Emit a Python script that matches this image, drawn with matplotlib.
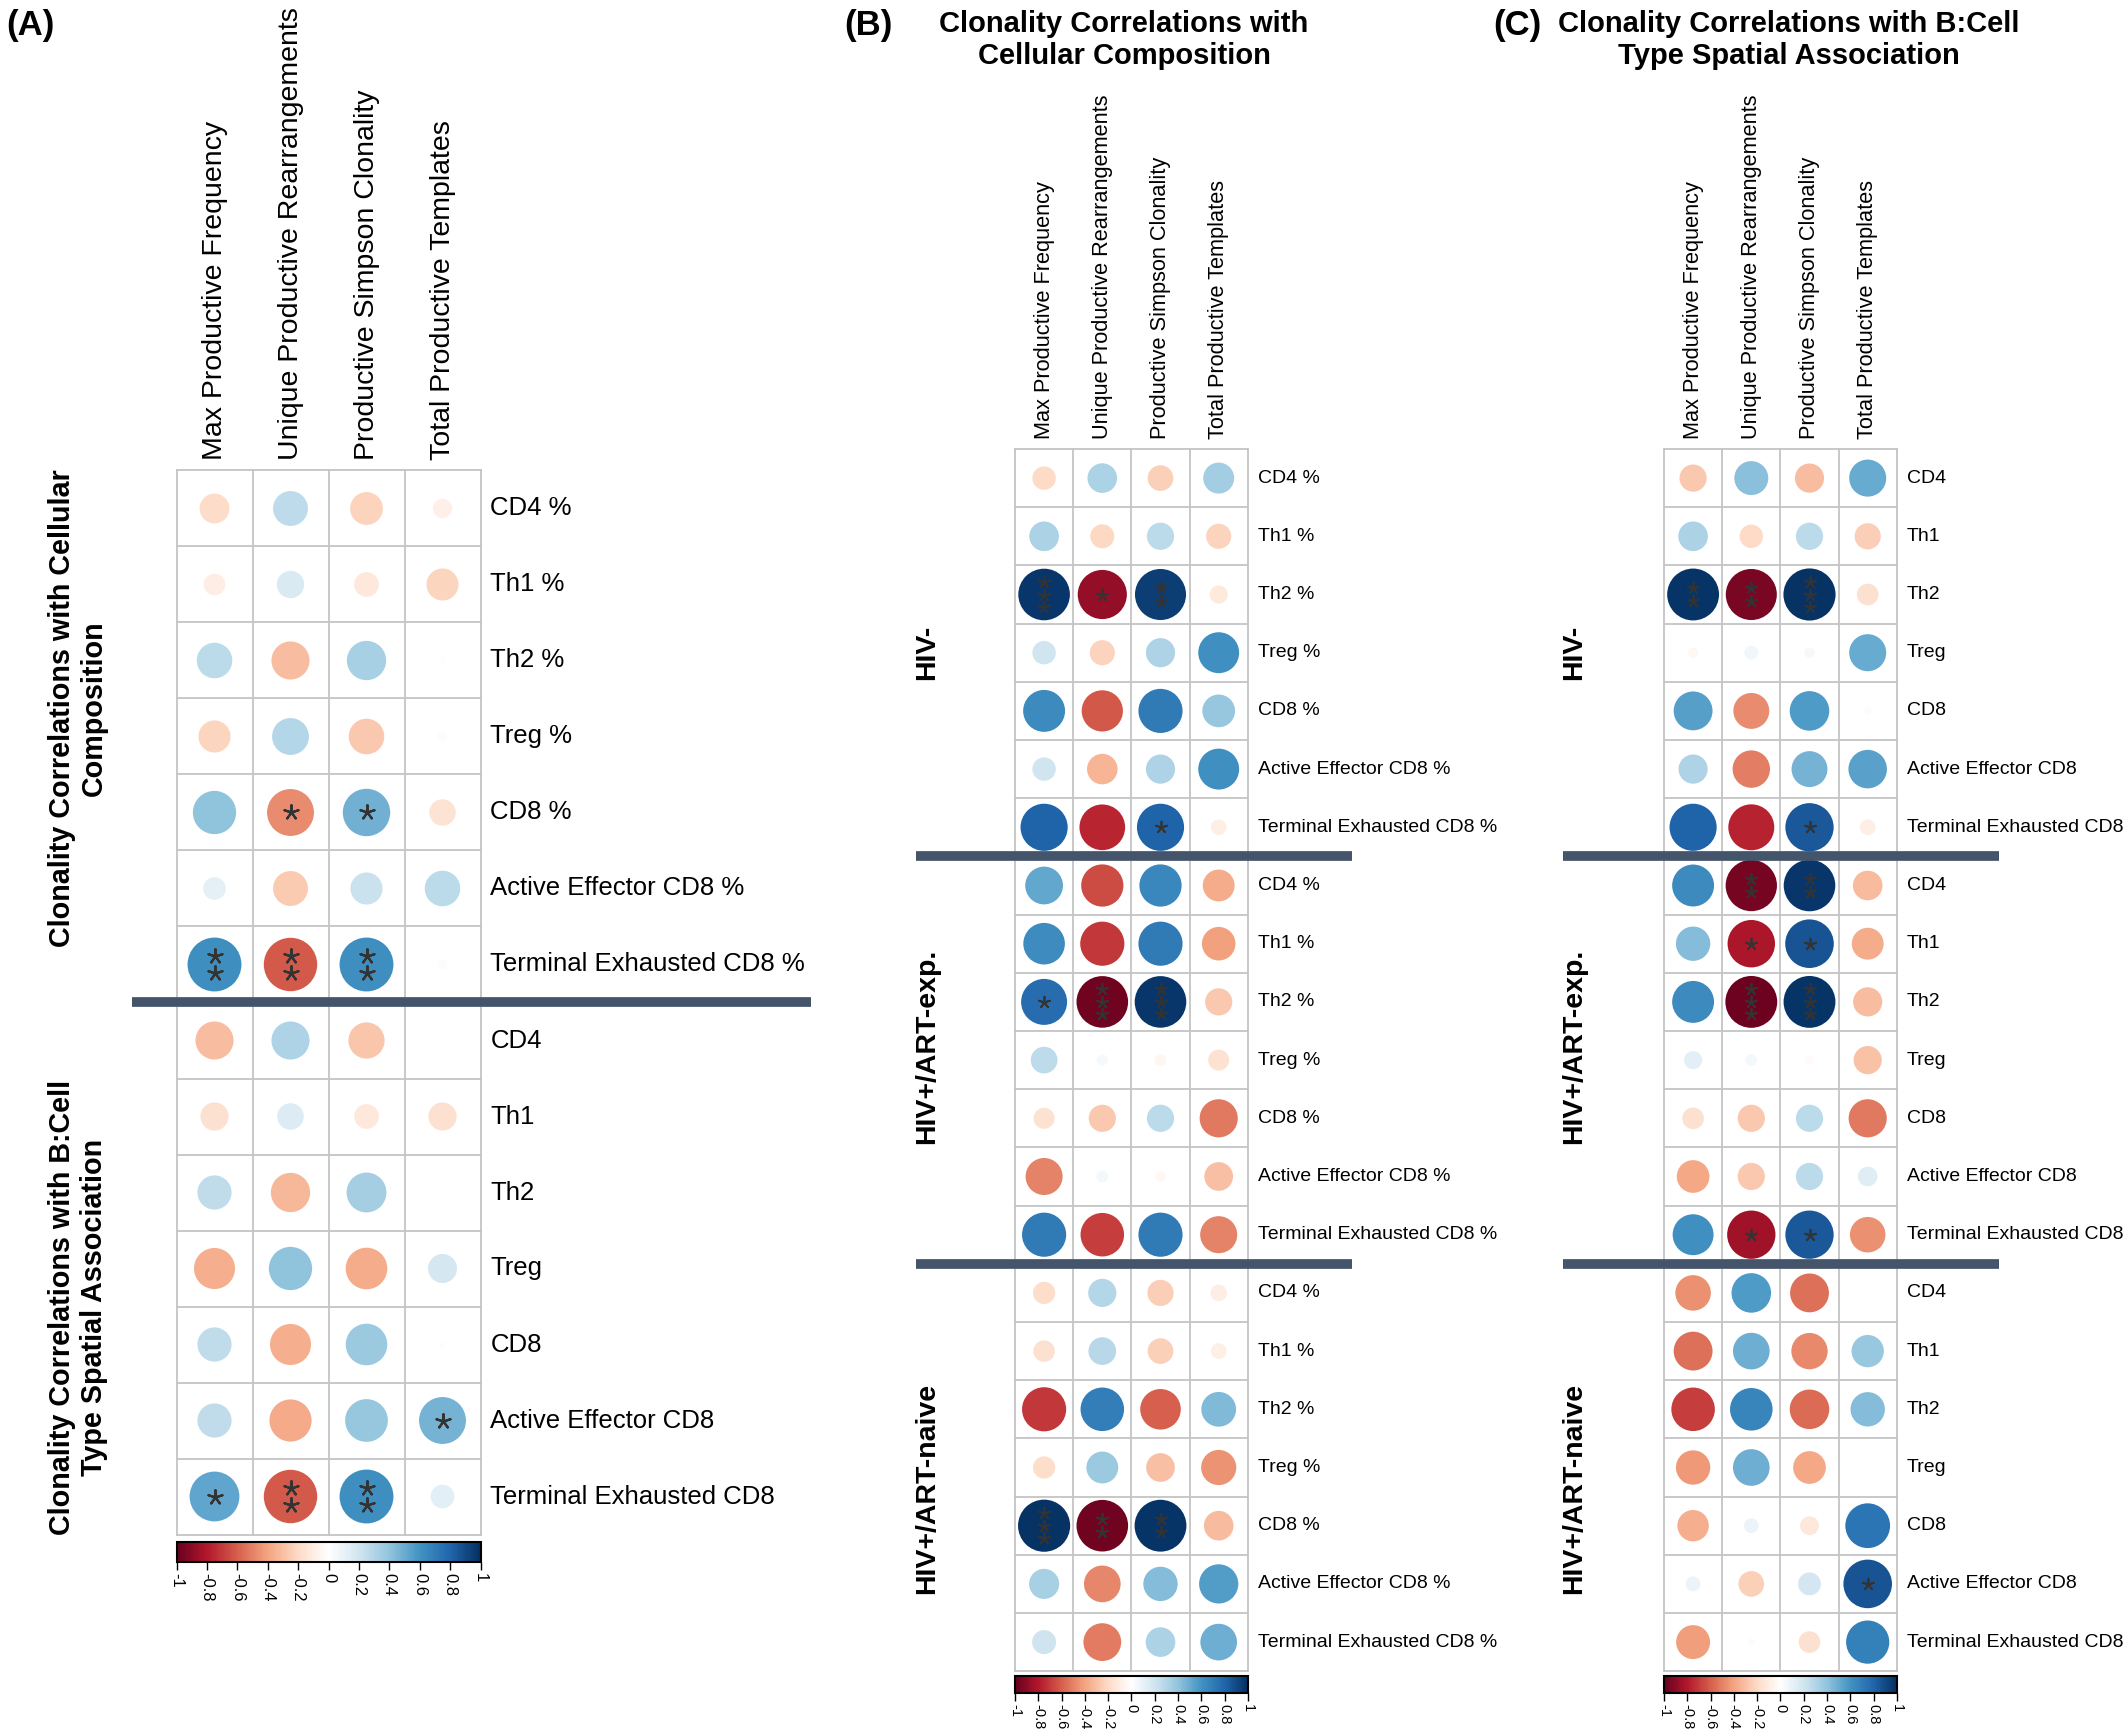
import numpy as np
import matplotlib
matplotlib.use("Agg")
import matplotlib.pyplot as plt
from matplotlib.colors import LinearSegmentedColormap, Normalize
from matplotlib.patches import Circle
from matplotlib.colorbar import ColorbarBase

# ---------------- data ----------------
metrics = ["Max Productive Frequency", "Unique Productive Rearrangements",
           "Productive Simpson Clonality", "Total Productive Templates"]
comp_rows = ["CD4 %", "Th1 %", "Th2 %", "Treg %", "CD8 %",
             "Active Effector CD8 %", "Terminal Exhausted CD8 %"]
spatial_rows = ["CD4", "Th1", "Th2", "Treg", "CD8",
                "Active Effector CD8", "Terminal Exhausted CD8"]
groups = ["HIV-", "HIV+/ART-exp.", "HIV+/ART-naive"]
cbar_ticks = [-1, -0.8, -0.6, -0.4, -0.2, 0, 0.2, 0.4, 0.6, 0.8, 1]

# Panel A: all patients
a_comp = [[-0.19, 0.26, -0.23, -0.08],
          [-0.10, 0.16, -0.13, -0.22],
          [0.27, -0.31, 0.33, 0.01],
          [-0.22, 0.29, -0.27, 0.02],
          [0.40, -0.47, 0.48, -0.15],
          [0.11, -0.26, 0.22, 0.27],
          [0.62, -0.61, 0.62, 0.02]]
a_comp_sig = [["", "", "", ""], ["", "", "", ""], ["", "", "", ""], ["", "", "", ""],
              ["", "*", "*", ""], ["", "", "", ""], ["**", "**", "**", ""]]
a_spat = [[-0.31, 0.31, -0.28, 0.0],
          [-0.17, 0.15, -0.13, -0.17],
          [0.25, -0.33, 0.34, 0.0],
          [-0.36, 0.40, -0.37, 0.18],
          [0.25, -0.36, 0.37, 0.01],
          [0.25, -0.38, 0.39, 0.47],
          [0.53, -0.61, 0.62, 0.12]]
a_spat_sig = [["", "", "", ""], ["", "", "", ""], ["", "", "", ""], ["", "", "", ""],
              ["", "", "", ""], ["", "", "", "*"], ["*", "**", "**", ""]]

# Panel B: cellular composition by group
b_hivneg = [[-0.20, 0.32, -0.24, 0.35],
            [0.32, -0.21, 0.27, -0.23],
            [0.97, -0.88, 0.95, -0.12],
            [0.20, -0.23, 0.31, 0.61],
            [0.64, -0.62, 0.71, 0.39],
            [0.20, -0.34, 0.31, 0.61],
            [0.81, -0.76, 0.81, -0.09]]
b_hivneg_sig = [["", "", "", ""], ["", "", "", ""], ["***", "*", "**", ""], ["", "", "", ""],
                ["", "", "", ""], ["", "", "", ""], ["", "", "*", ""]]
b_artexp = [[0.52, -0.65, 0.65, -0.37],
            [0.63, -0.71, 0.71, -0.41],
            [0.77, -0.97, 0.97, -0.27],
            [0.26, 0.045, -0.05, -0.16],
            [-0.16, -0.27, 0.27, -0.53],
            [-0.50, 0.05, -0.04, -0.30],
            [0.71, -0.69, 0.71, -0.50]]
b_artexp_sig = [["", "", "", ""], ["", "", "", ""], ["*", "***", "***", ""], ["", "", "", ""],
                ["", "", "", ""], ["", "", "", ""], ["", "", "", ""]]
b_naive = [[-0.18, 0.29, -0.25, -0.10],
           [-0.17, 0.28, -0.24, -0.09],
           [-0.71, 0.69, -0.60, 0.44],
           [-0.18, 0.37, -0.30, -0.45],
           [0.99, -0.97, 0.98, -0.32],
           [0.33, -0.49, 0.43, 0.56],
           [0.21, -0.52, 0.32, 0.49]]
b_naive_sig = [["", "", "", ""], ["", "", "", ""], ["", "", "", ""], ["", "", "", ""],
               ["***", "**", "**", ""], ["", "", "", ""], ["", "", "", ""]]

# Panel C: B:cell spatial association by group
c_hivneg = [[-0.27, 0.42, -0.31, 0.50],
            [0.32, -0.20, 0.27, -0.25],
            [0.98, -0.95, 0.99, -0.17],
            [-0.04, 0.07, 0.04, 0.50],
            [0.55, -0.47, 0.57, 0.02],
            [0.31, -0.51, 0.47, 0.54],
            [0.81, -0.77, 0.85, -0.09]]
c_hivneg_sig = [["", "", "", ""], ["", "", "", ""], ["**", "**", "***", ""], ["", "", "", ""],
                ["", "", "", ""], ["", "", "", ""], ["", "", "*", ""]]
c_artexp = [[0.64, -0.96, 0.97, -0.32],
            [0.43, -0.82, 0.86, -0.37],
            [0.64, -0.98, 0.98, -0.31],
            [0.12, 0.05, -0.03, -0.29],
            [-0.17, -0.27, 0.27, -0.53],
            [-0.39, -0.27, 0.27, 0.14],
            [0.61, -0.85, 0.85, -0.46]]
c_artexp_sig = [["", "**", "**", ""], ["", "*", "*", ""], ["", "***", "***", ""], ["", "", "", ""],
                ["", "", "", ""], ["", "", "", ""], ["", "*", "*", ""]]
c_naive = [[-0.46, 0.57, -0.55, 0.0],
           [-0.55, 0.49, -0.48, 0.38],
           [-0.69, 0.66, -0.57, 0.43],
           [-0.43, 0.49, -0.39, 0.0],
           [-0.36, 0.08, -0.13, 0.73],
           [0.08, -0.24, 0.19, 0.86],
           [-0.42, 0.02, -0.17, 0.68]]
c_naive_sig = [["", "", "", ""], ["", "", "", ""], ["", "", "", ""], ["", "", "", ""],
               ["", "", "", ""], ["", "", "", "*"], ["", "", "", ""]]

# ---------------- style ----------------
W, H = 2128, 1730
fig = plt.figure(figsize=(W / 100, H / 100), dpi=100)
fig.patch.set_facecolor("white")

cmap = LinearSegmentedColormap.from_list(
    "corrRdBu", ["#67001F", "#B2182B", "#D6604D", "#F4A582", "#FDDBC7", "#FFFFFF",
                 "#D1E5F0", "#92C5DE", "#4393C3", "#2166AC", "#053061"])
norm = Normalize(-1, 1)

SANS = ["Liberation Sans", "DejaVu Sans"]
NARROW = ["Liberation Sans Narrow", "Liberation Sans", "DejaVu Sans"]
SEP_COLOR = "#44546A"
GRID_COLOR = "#C4C4C4"
STAR_COLOR = "#333333"


def fig_rect(left, top, width, height):
    return [left / W, 1 - (top + height) / H, width / W, height / H]


def draw_panel(left, top, cell, row_blocks, blocks, sigs, label_fs, col_fs, star_ms,
               sep_x0, sep_x1, star_lw):
    nrows = sum(len(b) for b in blocks)
    ax = fig.add_axes(fig_rect(left, top, 4 * cell, nrows * cell))
    ax.set_xlim(0, 4)
    ax.set_ylim(nrows, 0)
    ax.axis("off")
    vals = np.vstack([np.array(b, dtype=float) for b in blocks])
    sig = [r for s in sigs for r in s]
    for i in range(nrows):
        for j in range(4):
            v = vals[i, j]
            if abs(v) > 0.001:
                ax.add_patch(Circle((j + 0.5, i + 0.5), 0.45 * np.sqrt(abs(v)),
                                    facecolor=cmap(norm(v)), edgecolor="none", zorder=2))
            s = sig[i][j]
            if s:
                n = len(s)
                offs = (np.arange(n) - (n - 1) / 2) * 0.215
                ax.scatter(np.full(n, j + 0.5), i + 0.5 + offs, marker=(5, 2, 0),
                           s=star_ms ** 2, color=STAR_COLOR, linewidths=star_lw, zorder=3)
    for k in range(5):
        ax.plot([k, k], [0, nrows], color=GRID_COLOR, lw=1.3, zorder=1, clip_on=False)
    for k in range(nrows + 1):
        ax.plot([0, 4], [k, k], color=GRID_COLOR, lw=1.3, zorder=1, clip_on=False)
    labels = [lab for rb in row_blocks for lab in rb]
    for i, lab in enumerate(labels):
        ax.text(4 + 10 / cell, i + 0.5, lab, ha="left", va="center",
                fontsize=label_fs, family=SANS, clip_on=False)
    for j, m in enumerate(metrics):
        ax.text(j + 0.5, -10 / cell, m, rotation=90, ha="center", va="bottom",
                fontsize=col_fs, family=SANS, clip_on=False)
    pos = 0
    for b in blocks[:-1]:
        pos += len(b)
        ax.plot([(sep_x0 - left) / cell, (sep_x1 - left) / cell], [pos, pos],
                color=SEP_COLOR, lw=7, solid_capstyle="butt", zorder=4, clip_on=False)
    return ax


def draw_cbar(left, top, width, height, fs):
    cax = fig.add_axes(fig_rect(left, top, width, height))
    cb = ColorbarBase(cax, cmap=cmap, norm=norm, orientation="horizontal",
                      ticks=cbar_ticks)
    cb.outline.set_linewidth(1.5)
    cb.set_ticklabels([("%g" % t) for t in cbar_ticks])
    cax.tick_params(axis="x", length=6, width=1.0, pad=2, labelsize=fs)
    for t in cax.get_xticklabels():
        t.set_rotation(-90)
        t.set_family(SANS)
    return cax


# ---------- Panel A ----------
A_left, A_top, A_cell = 176.5, 470.5, 76.0
draw_panel(A_left, A_top, A_cell, [comp_rows, spatial_rows], [a_comp, a_spat],
           [a_comp_sig, a_spat_sig],
           label_fs=18.5, col_fs=20.5, star_ms=10.5, sep_x0=132, sep_x1=811, star_lw=1.6)
draw_cbar(A_left, A_top + 14 * A_cell + 7, 4 * A_cell, 20, 12)

# ---------- Panel B ----------
B_left, B_top, B_cell = 1015.0, 449.0, 58.2
draw_panel(B_left, B_top, B_cell, [comp_rows] * 3, [b_hivneg, b_artexp, b_naive],
           [b_hivneg_sig, b_artexp_sig, b_naive_sig],
           label_fs=14, col_fs=15.7, star_ms=8.5, sep_x0=916, sep_x1=1352, star_lw=1.3)
draw_cbar(B_left, B_top + 21 * B_cell + 5, 4 * B_cell, 17, 10.5)

# ---------- Panel C ----------
C_left, C_top, C_cell = 1664.0, 449.0, 58.2
draw_panel(C_left, C_top, C_cell, [spatial_rows] * 3, [c_hivneg, c_artexp, c_naive],
           [c_hivneg_sig, c_artexp_sig, c_naive_sig],
           label_fs=14, col_fs=15.7, star_ms=8.5, sep_x0=1563, sep_x1=1999, star_lw=1.3)
draw_cbar(C_left, C_top + 21 * C_cell + 5, 4 * C_cell, 17, 10.5)

# ---------- headings ----------
def ftext(x, y, s, **kw):
    fig.text(x / W, 1 - y / H, s, **kw)

ftext(6, 26, "(A)", fontsize=25, fontweight="bold", family=NARROW, ha="left", va="center")
ftext(844, 26, "(B)", fontsize=25, fontweight="bold", family=NARROW, ha="left", va="center")
ftext(1493, 26, "(C)", fontsize=25, fontweight="bold", family=NARROW, ha="left", va="center")

ftext(1124, 40, "Clonality Correlations with\nCellular Composition", fontsize=21,
      fontweight="bold", family=NARROW, ha="center", va="center", linespacing=1.2)
ftext(1789, 40, "Clonality Correlations with B:Cell\nType Spatial Association", fontsize=21,
      fontweight="bold", family=NARROW, ha="center", va="center", linespacing=1.2)

ftext(78, 708, "Clonality Correlations with Cellular\nComposition", fontsize=20.7,
      fontweight="bold", family=SANS, ha="center", va="center", rotation=90,
      linespacing=1.15)
ftext(78, 1307, "Clonality Correlations with B:Cell\nType Spatial Association", fontsize=20.7,
      fontweight="bold", family=SANS, ha="center", va="center", rotation=90,
      linespacing=1.15)

group_y = [652, 1046, 1488]
for g, yc in zip(groups, group_y):
    ftext(927, yc, g, fontsize=20.5, fontweight="bold", family=NARROW,
          ha="center", va="center", rotation=90)
    ftext(1574, yc, g, fontsize=20.5, fontweight="bold", family=NARROW,
          ha="center", va="center", rotation=90)

fig.savefig("out.png", dpi=100, facecolor="white")
